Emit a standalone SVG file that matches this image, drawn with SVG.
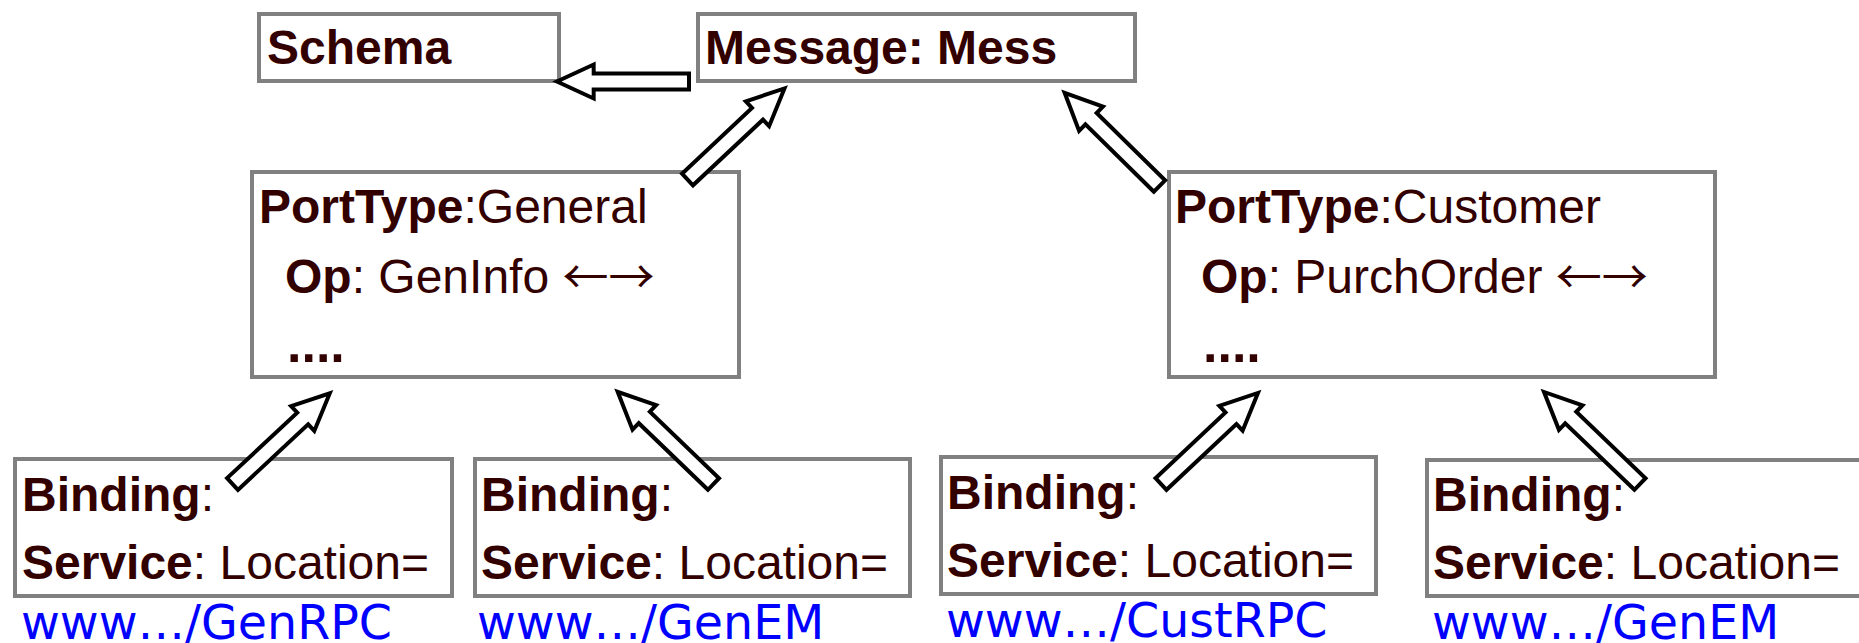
<svg xmlns="http://www.w3.org/2000/svg" xmlns:xlink="http://www.w3.org/1999/xlink" width="1859" height="643" viewBox="0 0 1859 643">
  <style>
    .box { fill: #ffffff; stroke: #808080; stroke-width: 4; }
    .t { font-family: "Liberation Sans", Arial, sans-serif; font-size: 48px; fill: #330000; }
    .b { font-weight: bold; }
    .dots { font-family: "Liberation Sans", Arial, sans-serif; font-size: 52px; font-weight: bold; fill: #330000; }
    .sym { font-family: "Noto Sans CJK SC", "DejaVu Sans", sans-serif; font-size: 46px; }
    .url { font-family: "DejaVu Sans", Verdana, sans-serif; font-size: 47.5px; fill: #0000ff; }
    .arrow { fill: #ffffff; stroke: #000000; stroke-width: 4; stroke-linejoin: miter; }
  </style>
  <defs>
    <!-- hollow block arrow, tail at origin, pointing along +x -->
    <path id="blockArrow" class="arrow" d="M0,-8 L96,-8 L96,-17 L133,0 L96,17 L96,8 L0,8 Z"/>
  </defs>
  <rect width="1859" height="643" fill="#ffffff"/>

  <g id="schema">
    <rect class="box" x="259" y="14" width="300" height="67"/>
    <text class="t b" x="267" y="64">Schema</text>
  </g>

  <g id="message">
    <rect class="box" x="698" y="14" width="437" height="67"/>
    <text class="t b" x="705" y="64">Message: Mess</text>
  </g>

  <g id="porttype-general">
    <rect class="box" x="252" y="172" width="487" height="205"/>
    <text class="t" x="259" y="223"><tspan class="b">PortType</tspan>:General</text>
    <text class="t" x="285" y="293"><tspan class="b">Op</tspan>: GenInfo <tspan class="sym">←→</tspan></text>
    <text class="dots" x="287" y="362">....</text>
  </g>

  <g id="porttype-customer">
    <rect class="box" x="1169" y="172" width="546" height="205"/>
    <text class="t" x="1175" y="223"><tspan class="b">PortType</tspan>:Customer</text>
    <text class="t" x="1201" y="293"><tspan class="b">Op</tspan>: PurchOrder <tspan class="sym">←→</tspan></text>
    <text class="dots" x="1203" y="362">....</text>
  </g>

  <g id="binding-genrpc">
    <rect class="box" x="15" y="459" width="437" height="137"/>
    <text class="t" x="22" y="511"><tspan class="b">Binding</tspan>:</text>
    <text class="t" x="22" y="579"><tspan class="b">Service</tspan>: Location=</text>
    <text class="url" x="21" y="639">www…/GenRPC</text>
  </g>

  <g id="binding-genem">
    <rect class="box" x="475" y="459" width="435" height="137"/>
    <text class="t" x="481" y="511"><tspan class="b">Binding</tspan>:</text>
    <text class="t" x="481" y="579"><tspan class="b">Service</tspan>: Location=</text>
    <text class="url" x="477" y="639">www…/GenEM</text>
  </g>

  <g id="binding-custrpc">
    <rect class="box" x="941" y="457" width="435" height="137"/>
    <text class="t" x="947" y="509"><tspan class="b">Binding</tspan>:</text>
    <text class="t" x="947" y="577"><tspan class="b">Service</tspan>: Location=</text>
    <text class="url" x="946" y="637">www…/CustRPC</text>
  </g>

  <g id="binding-genem-2">
    <rect class="box" x="1427" y="460" width="460" height="136"/>
    <text class="t" x="1433" y="511"><tspan class="b">Binding</tspan>:</text>
    <text class="t" x="1433" y="579"><tspan class="b">Service</tspan>: Location=</text>
    <text class="url" x="1432" y="639">www…/GenEM</text>
  </g>

  <g id="connectors">
    <use xlink:href="#blockArrow" transform="translate(689,81.5) rotate(180) scale(0.993,1)"/>
    <use xlink:href="#blockArrow" transform="translate(687.5,179.5) rotate(-43.2)"/>
    <use xlink:href="#blockArrow" transform="translate(1159.5,186) rotate(-135.5)"/>
    <use xlink:href="#blockArrow" transform="translate(232.5,484) rotate(-43)"/>
    <use xlink:href="#blockArrow" transform="translate(713.5,484) rotate(-136.1)"/>
    <use xlink:href="#blockArrow" transform="translate(1161,484) rotate(-43.2)"/>
    <use xlink:href="#blockArrow" transform="translate(1640,484) rotate(-136.2)"/>
  </g>
</svg>
